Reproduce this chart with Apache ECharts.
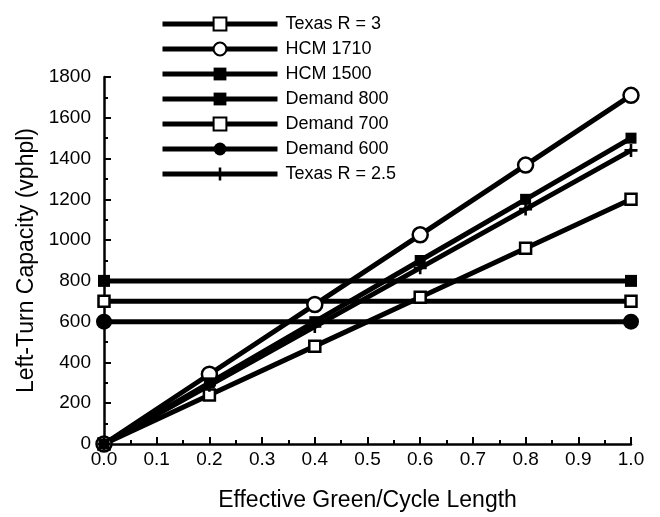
<!DOCTYPE html>
<html><head><meta charset="utf-8">
<script src="https://cdn.jsdelivr.net/npm/echarts@6/dist/echarts.min.js"></script>
<style>html,body{margin:0;padding:0;background:#fff}#c{width:660px;height:517px}</style>
</head><body><div id="c"></div>
<script>
const xValues = [0, 0.2, 0.4, 0.6, 0.8, 1.0];
const texasR3 = [0, 240, 480, 720, 960, 1200];
const hcm1710 = [0, 342, 684, 1026, 1368, 1710];
const hcm1500 = [0, 300, 600, 900, 1200, 1500];
const texasR25 = [0, 288, 576, 864, 1152, 1440];
const demandX = [0, 1.0];
const demand800 = [800, 800];
const demand700 = [700, 700];
const demand600 = [600, 600];
const seriesNames = ['Texas R = 3', 'HCM 1710', 'HCM 1500', 'Demand 800', 'Demand 700', 'Demand 600', 'Texas R = 2.5'];
const xTicks = ['0.0','0.1','0.2','0.3','0.4','0.5','0.6','0.7','0.8','0.9','1.0'];

const FONT = '"Liberation Sans", Arial, sans-serif';
const plus = 'path://M4,0 L6,0 L6,4 L10,4 L10,6 L6,6 L6,10 L4,10 L4,6 L0,6 L0,4 L4,4 Z';
function pts(xs, ys){ return xs.map((x,i)=>[x, ys[i]]); }
function mk(name, data, symbol, size, filled){
  return {
    name, type:'line', data, symbol, symbolSize:size, showAllSymbol:true,
    lineStyle:{color:'#000', width:5},
    itemStyle:{color: filled ? '#000' : '#fff', borderColor:'#000', borderWidth: filled?0:2.5, opacity:1},
    emphasis:{disabled:true}, animation:false
  };
}
const chart = echarts.init(document.getElementById('c'), null, {renderer:'canvas'});
chart.setOption({
  animation:false,
  backgroundColor:'#fff',
  grid:{left:104, right:29, top:77, bottom:64, containLabel:false},
  legend:{
    orient:'vertical', left:155, top:10, itemWidth:115, itemHeight:16, itemGap:7,
    data: seriesNames,
    lineStyle:{width:5, color:'#000'},
    textStyle:{fontFamily:FONT, fontSize:18, lineHeight:18, color:'#000', padding:[0,0,0,3]},
    inactiveColor:'#000'
  },
  xAxis:{
    type:'value', min:0, max:1, interval:0.1,
    name:'Effective Green/Cycle Length', nameLocation:'middle', nameGap:45,
    nameTextStyle:{fontFamily:FONT, fontSize:23, color:'#000'},
    axisLine:{lineStyle:{color:'#000', width:2.5}},
    axisTick:{inside:true, length:7, lineStyle:{color:'#000', width:2}},
    minorTick:{show:true, splitNumber:2, length:4, lineStyle:{color:'#000', width:2}},
    splitLine:{show:false},
    axisLabel:{fontFamily:FONT, fontSize:19, color:'#000', margin:6, formatter:(v)=>xTicks[Math.round(v*10)]}
  },
  yAxis:{
    type:'value', min:0, max:1800, interval:200,
    name:'Left-Turn Capacity (vphpl)', nameLocation:'middle', nameGap:63, nameRotate:90,
    nameTextStyle:{fontFamily:FONT, fontSize:23, color:'#000'},
    axisLine:{show:true, lineStyle:{color:'#000', width:2.5}},
    axisTick:{show:true, inside:true, length:7, lineStyle:{color:'#000', width:2}},
    minorTick:{show:true, splitNumber:2, length:4, lineStyle:{color:'#000', width:2}},
    splitLine:{show:false},
    axisLabel:{fontFamily:FONT, fontSize:19, color:'#000', margin:13, formatter:(v)=>String(v)}
  },
  series:[
    mk(seriesNames[0], pts(xValues, texasR3), 'rect', 11, false),
    mk(seriesNames[1], pts(xValues, hcm1710), 'circle', 15, false),
    mk(seriesNames[2], pts(xValues, hcm1500), 'rect', 11, true),
    mk(seriesNames[3], pts(demandX, demand800), 'rect', 12, true),
    mk(seriesNames[4], pts(demandX, demand700), 'rect', 11, false),
    mk(seriesNames[5], pts(demandX, demand600), 'circle', 16, true),
    mk(seriesNames[6], pts(xValues, texasR25), plus, 13, true)
  ]
});
</script></body></html>
